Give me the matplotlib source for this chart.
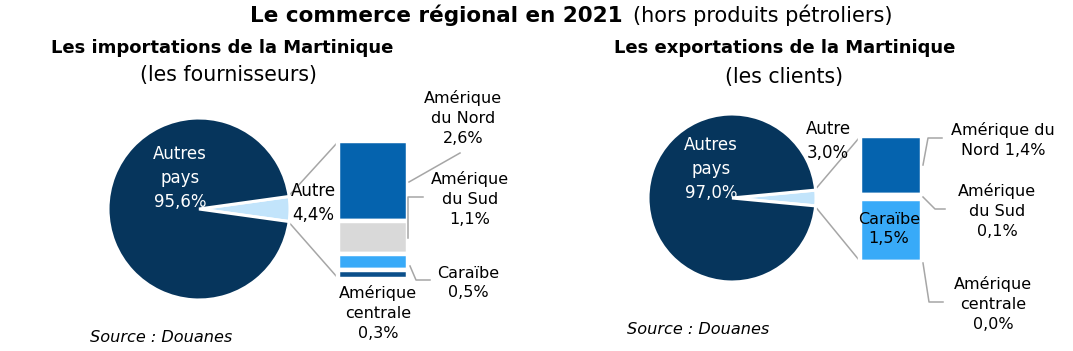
import matplotlib
matplotlib.use('Agg')
import matplotlib.pyplot as plt
import numpy as np

W, H = 1073, 351

# ---- Data ----
pie_labels = ['Autre', 'Autres pays']
imp_pie = [4.4, 95.6]
exp_pie = [3.0, 97.0]
bar_regions = ['Amérique du Nord', 'Amérique du Sud', 'Caraïbe', 'Amérique centrale']
imp_bar = [2.6, 1.1, 0.5, 0.3]
exp_bar = [1.4, 0.1, 1.5, 0.0]

NAVY = '#06355C'
LIGHT = '#C2E4FB'
bar_colors = ['#0563AE', '#D9D9D9', '#38AAF8', '#0B4F8A']
GRAY = '#A6A6A6'
FONT = 'DejaVu Sans'
LS = 11.5  # label size

fig = plt.figure(figsize=(W / 100, H / 100), dpi=100)
ax = fig.add_axes([0, 0, 1, 1])


def Y(y):
    return H - y


def fmt(v):
    return f"{v:.1f}".replace('.', ',') + '%'


def pie_of_bar(pie_vals, bar_vals, cx, cy, r, bx0, bx1, btop, bbot):
    half = pie_vals[0] / sum(pie_vals) * 180
    ax.pie(pie_vals, colors=[LIGHT, NAVY], startangle=-half,
           center=(cx, Y(cy)), radius=r, frame=True,
           wedgeprops=dict(edgecolor='white', linewidth=2.2))
    scale = (bbot - btop) / sum(bar_vals)
    top = Y(btop)
    vals = np.array(bar_vals)
    bottoms = top - np.cumsum(vals) * scale
    ax.bar([(bx0 + bx1) / 2] * len(vals), vals * scale, bottom=bottoms,
           width=bx1 - bx0, color=bar_colors, edgecolor='white', linewidth=3.2)
    ex = cx + (r - 1) * np.cos(np.radians(half))
    ey = (r - 1) * np.sin(np.radians(half))
    ax.plot([ex, bx0 - 1], [Y(cy) + ey, top - 2], color=GRAY, lw=1.1, zorder=0.5)
    ax.plot([ex, bx0 - 1], [Y(cy) - ey, Y(bbot) + 2], color=GRAY, lw=1.1, zorder=0.5)


def lead(pts):
    xs = [p[0] for p in pts]
    ys = [Y(p[1]) for p in pts]
    ax.plot(xs, ys, color=GRAY, lw=1.1)


def label(x, y, s, color='black', size=LS, **kw):
    ax.text(x, Y(y), s, ha='center', va='center', color=color, fontsize=size,
            family=FONT, linespacing=1.4, **kw)


# ---- Left: imports ----
pie_of_bar(imp_pie, imp_bar, 199, 209, 91, 338, 408, 141, 279)
label(180, 178, f"Autres\npays\n{fmt(imp_pie[1])}", color='white', size=12)
label(313, 203, f"{pie_labels[0]}\n{fmt(imp_pie[0])}", size=12)
label(463, 118, f"Amérique\ndu Nord\n{fmt(imp_bar[0])}")
label(470, 199, f"Amérique\ndu Sud\n{fmt(imp_bar[1])}")
label(468, 283, f"{bar_regions[2]}\n{fmt(imp_bar[2])}")
label(378, 313, f"Amérique\ncentrale\n{fmt(imp_bar[3])}")
lead([(409, 182), (460, 153)])
lead([(408, 238), (408, 197), (423, 197)])
lead([(410, 266), (416, 280), (430, 280)])
ax.text(90, Y(338), "Source : Douanes", ha='left', va='center', fontsize=11.6,
        family=FONT, style='italic')

# ---- Right: exports ----
pie_of_bar(exp_pie, exp_bar, 732, 198, 84, 860, 922, 136, 262)
label(711, 169, f"Autres\npays\n{fmt(exp_pie[1])}", color='white', size=12)
label(828, 141, f"{pie_labels[0]}\n{fmt(exp_pie[0])}", size=12)
label(1003, 140, f"Amérique du\nNord {fmt(exp_bar[0])}")
label(997, 211, f"Amérique\ndu Sud\n{fmt(exp_bar[1])}")
label(889, 229, f"{bar_regions[2]}\n{fmt(exp_bar[2])}")
label(993, 304, f"Amérique\ncentrale\n{fmt(exp_bar[3])}")
lead([(923, 165), (928, 138), (942, 138)])
lead([(923, 197), (935, 209), (945, 209)])
lead([(923, 263), (929, 302), (943, 302)])
ax.text(627, Y(330), "Source : Douanes", ha='left', va='center', fontsize=11.6,
        family=FONT, style='italic')

# ---- Titles ----
ax.text(623, Y(15), "Le commerce régional en 2021", ha='right', va='center',
        fontsize=15.5, fontweight='bold', family=FONT)
ax.text(633, Y(15), "(hors produits pétroliers)", ha='left', va='center',
        fontsize=15, family=FONT)
ax.text(222, Y(48), "Les importations de la Martinique", ha='center', va='center',
        fontsize=13, fontweight='bold', family=FONT)
ax.text(229, Y(75), "(les fournisseurs)", ha='center', va='center',
        fontsize=14.8, family=FONT)
ax.text(785, Y(48), "Les exportations de la Martinique", ha='center', va='center',
        fontsize=13, fontweight='bold', family=FONT)
ax.text(784, Y(77), "(les clients)", ha='center', va='center',
        fontsize=14.8, family=FONT)

ax.set_xlim(0, W)
ax.set_ylim(0, H)
ax.set_aspect('equal')
ax.axis('off')

fig.savefig('out.png', dpi=100)
